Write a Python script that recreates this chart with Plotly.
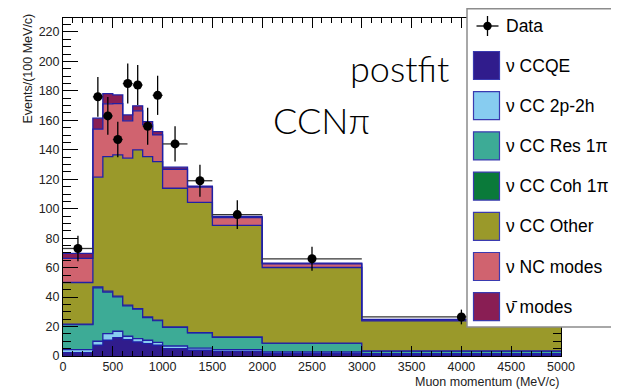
import plotly.graph_objects as go

# ---------------- data ----------------
bin_edges = [0, 300, 400, 500, 600, 700, 800, 900, 1000, 1250, 1500, 2000, 3000, 5000]

# stacked components, Events/(100 MeV/c)
ccqe   = [2.3, 7.3, 10.7, 12.5, 11.1, 9.5, 8.4, 7.3, 5.0, 3.9, 3.2, 1.8, 1.0]
cc2p2h = [2.0, 2.7, 4.5, 4.3, 2.3, 2.3, 2.3, 2.0, 1.8, 1.5, 1.1, 0.9, 0.6]
ccres  = [17.0, 36.3, 28.2, 23.3, 20.6, 20.0, 15.4, 14.7, 12.6, 10.3, 8.4, 6.0, 1.75]
cccoh  = [0.3, 0.6, 0.6, 0.5, 0.5, 0.4, 0.4, 0.3, 0.3, 0.2, 0.2, 0.1, 0.05]
ccoth  = [28.3, 74.5, 91.4, 95.9, 99.8, 107.7, 108.9, 107.7, 94.2, 88.4, 75.8, 51.3, 20.4]
ncmod  = [16.4, 32.6, 35.8, 34.9, 25.4, 26.6, 21.6, 18.1, 12.9, 10.3, 5.2, 2.5, 0.7]
antinu = [3.4, 7.5, 7.0, 5.9, 4.0, 3.4, 2.2, 2.3, 1.4, 0.8, 0.9, 0.5, 0.3]

data_y   = [73, 176, 163, 147, 185, 184, 156, 177, 144, 119, 96, 66, 26.5]
data_err = [8.7, 13.5, 12.8, 12.1, 13.6, 13.6, 12.5, 13.3, 12.0, 10.9, 9.8, 8.1, 5.0]

labels = ["ν CCQE", "ν CC 2p-2h", "ν CC Res 1π", "ν CC Coh 1π",
          "ν CC Other", "ν NC modes", "ν̄ modes"]
colors = ["#301c8c", "#87ccf0", "#3dab96", "#0a7a3a", "#9a992a", "#d0636f", "#891e54"]
components = [ccqe, cc2p2h, ccres, cccoh, ccoth, ncmod, antinu]

x_ticks = [0, 500, 1000, 1500, 2000, 2500, 3000, 3500, 4000, 4500, 5000]
y_ticks = [0, 20, 40, 60, 80, 100, 120, 140, 160, 180, 200, 220]

OUTLINE = "#2020a6"

fig = go.Figure()

# stacked step histograms
for lab, col, comp in zip(labels, colors, components):
    fig.add_trace(go.Scatter(
        x=bin_edges, y=comp + [comp[-1]],
        mode="lines", line=dict(shape="hv", color=OUTLINE, width=1.3),
        stackgroup="mc", fillcolor=col, name=lab, showlegend=False,
        hoverinfo="skip",
    ))

# data points
centers = [(a + b) / 2 for a, b in zip(bin_edges[:-1], bin_edges[1:])]
half_w = [(b - a) / 2 for a, b in zip(bin_edges[:-1], bin_edges[1:])]
fig.add_trace(go.Scatter(
    x=centers, y=data_y, mode="markers",
    marker=dict(color="black", size=9),
    error_y=dict(type="data", array=data_err, color="black", thickness=1.3, width=0),
    error_x=dict(type="data", array=half_w, color="#333333", thickness=1.3, width=0),
    name="Data", showlegend=False,
))

# ---------------- layout ----------------
# the page body adds an 8px offset; work in page pixels and convert
OFF = 8
W, H = 619 - OFF, 389 - OFF
ML, MR, MT, MB = 63 - OFF, 58, 18 - OFF, 33
PW, PH = W - ML - MR, H - MT - MB

def px(xp):  # page x -> paper
    return (xp - OFF - ML) / PW

def py(yp):  # page y -> paper
    return (H - MB - (yp - OFF)) / PH

tickfont = dict(family="Liberation Sans, Arial, sans-serif", size=12.5, color="#222222")

fig.update_layout(
    width=W, height=H, autosize=False,
    margin=dict(l=ML, r=MR, t=MT, b=MB, autoexpand=False),
    paper_bgcolor="white", plot_bgcolor="white",
    showlegend=False,
    xaxis=dict(range=[0, 5000], tickvals=x_ticks, ticktext=[str(v) for v in x_ticks],
               ticks="inside", ticklen=10, tickcolor="black", tickwidth=1,
               showline=True, linecolor="black", linewidth=1, mirror="allticks",
               showgrid=False, zeroline=False, tickfont=tickfont, automargin=False,
               ticklabelstandoff=-1,
               minor=dict(ticks="inside", ticklen=5, dtick=100, tick0=0,
                          tickcolor="black", showgrid=False)),
    yaxis=dict(range=[0, 229.5], tickvals=y_ticks, ticktext=[str(v) for v in y_ticks],
               ticks="inside", ticklen=15, tickcolor="black", tickwidth=1,
               showline=True, linecolor="black", linewidth=1, mirror="allticks",
               showgrid=False, zeroline=False, tickfont=tickfont, automargin=False,
               minor=dict(ticks="inside", ticklen=8, dtick=5, tick0=0,
                          tickcolor="black", showgrid=False)),
)

annotations = [
    dict(text="Muon momentum (MeV/c)", x=1, y=py(381.5), xref="paper", yref="paper",
         xanchor="right", yanchor="middle", showarrow=False,
         font=dict(family="Liberation Sans, Arial, sans-serif", size=12.5, color="#222222")),
    dict(text="Events/(100 MeV/c)", x=px(27.5), y=py(12), xref="paper", yref="paper",
         xanchor="center", yanchor="top", textangle=-90, showarrow=False,
         font=dict(family="Liberation Sans, Arial, sans-serif", size=12.5, color="#222222")),
    dict(text="postfit", x=px(348), y=py(68), xref="paper", yref="paper",
         xanchor="left", yanchor="middle", showarrow=False,
         font=dict(family="Lato", size=36, color="black", weight=300)),
    dict(text="CCNπ", x=px(271), y=py(120), xref="paper", yref="paper",
         xanchor="left", yanchor="middle", showarrow=False,
         font=dict(family="Lato", size=36, color="black", weight=300)),
]

shapes = []
# legend box
shapes.append(dict(type="rect", xref="paper", yref="paper",
                   x0=px(467), x1=px(617), y0=py(327), y1=py(8.7),
                   line=dict(color="#8c8c8c", width=1.5), fillcolor="white", layer="above"))
legfont = dict(family="Liberation Sans, Arial, sans-serif", size=17.5, color="black")
# data entry
cy = 26
shapes.append(dict(type="line", xref="paper", yref="paper", x0=px(476.5), x1=px(498.5),
                   y0=py(cy), y1=py(cy), line=dict(color="black", width=1.3), layer="above"))
shapes.append(dict(type="line", xref="paper", yref="paper", x0=px(487.5), x1=px(487.5),
                   y0=py(cy - 10), y1=py(cy + 10), line=dict(color="black", width=1.3), layer="above"))
shapes.append(dict(type="circle", xref="paper", yref="paper", x0=px(483.3), x1=px(491.7),
                   y0=py(cy + 4.2), y1=py(cy - 4.2), line=dict(color="black", width=0),
                   fillcolor="black", layer="above"))
annotations.append(dict(text="Data", x=px(504), y=py(cy), xref="paper", yref="paper",
                        xanchor="left", yanchor="middle", showarrow=False, font=legfont))
for i, (lab, col) in enumerate(zip(labels, colors)):
    cy = 65.5 + 40.2 * i
    shapes.append(dict(type="rect", xref="paper", yref="paper",
                       x0=px(473.5), x1=px(499.5), y0=py(cy + 14), y1=py(cy - 14),
                       line=dict(color="#3a3ab0", width=1.2), fillcolor=col, layer="above"))
    annotations.append(dict(text=lab, x=px(504), y=py(cy), xref="paper", yref="paper",
                            xanchor="left", yanchor="middle", showarrow=False, font=legfont))

fig.update_layout(shapes=shapes, annotations=annotations)

fig.write_html("out.html")
